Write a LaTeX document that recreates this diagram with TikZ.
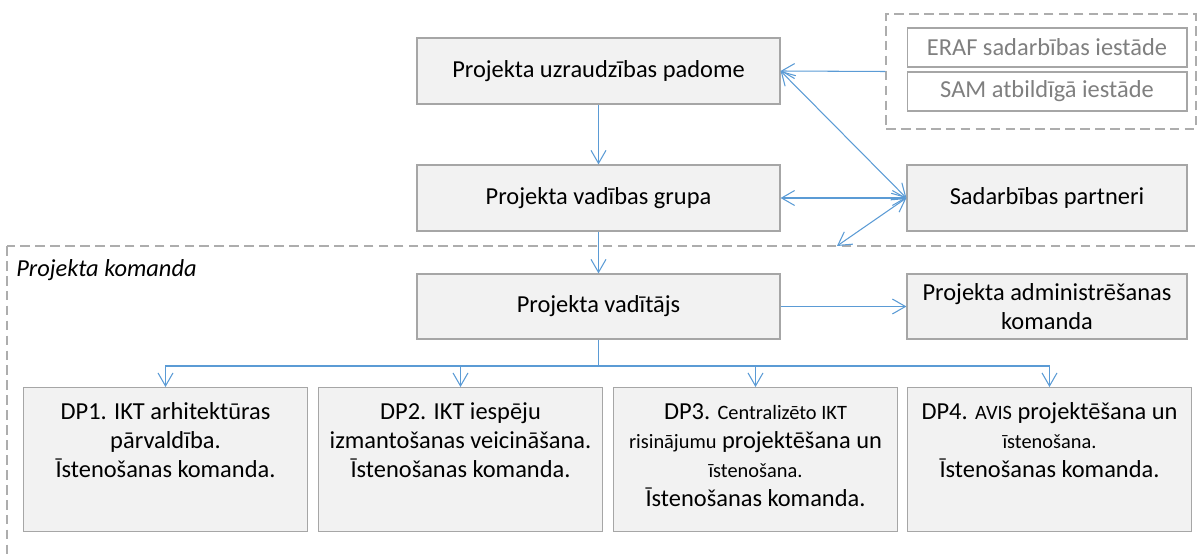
\documentclass[tikz,border=0pt]{standalone}
\usepackage{fontspec}
\setmainfont{Carlito}
\usetikzlibrary{arrows.meta}

\definecolor{linkblue}{HTML}{5B9BD5}
\definecolor{boxgray}{HTML}{A6A6A6}
\definecolor{boxfill}{HTML}{F2F2F2}
\definecolor{groupgray}{HTML}{ADADAD}
\definecolor{textgray}{HTML}{7F7F7F}

\newcommand{\dpsmall}[1]{{\fontsize{11.6}{16.5}\selectfont #1}}
\newcommand{\dptext}[1]{\parbox[t][68.7pt][t]{5.55cm}{\centering\strut #1}}

\begin{document}
\begin{tikzpicture}[x=0.02cm, y=-0.02cm,
    >={Straight Barb[length=2.6mm, width=3mm]},
    mainfont/.style={font=\fontsize{13.9}{16.5}\selectfont},
    block/.style={rectangle, draw=boxgray, line width=0.7pt, fill=boxfill, inner sep=2pt, align=center, mainfont},
    wideblock/.style={block, minimum width=7.26cm, minimum height=1.32cm},
    sideblock/.style={block, minimum width=5.6cm, minimum height=1.32cm},
    authblock/.style={rectangle, draw=boxgray, line width=0.6pt, fill=white, text=textgray, minimum width=5.6cm, minimum height=0.78cm, mainfont},
    dpblock/.style={block, anchor=north, minimum width=5.62cm, minimum height=2.88cm, inner ysep=6.65pt},
    groupline/.style={draw=groupgray, line width=0.7pt, dash pattern=on 5.5pt off 3pt},
    link/.style={draw=linkblue, line width=0.6pt},
]
    \useasboundingbox (0,0) rectangle (1198,554);
    \clip (0,0) rectangle (1198,554);

    % Upper level
    \node[wideblock] (padome) at (598.5,71) {Projekta uzraudzības padome};
    \node[wideblock] (grupa) at (598.5,198) {Projekta vadības grupa};
    \node[sideblock] (partneri) at (1047,198) {Sadarbības partneri};

    % Authorities group
    \node[groupline, rectangle, minimum width=6.2cm, minimum height=2.3cm] (iestades) at (1041,71.5) {};
    \node[authblock] (eraf) at (1047,47.5) {ERAF sadarbības iestāde};
    \node[authblock] (sam) at (1047,91.5) {SAM atbildīgā iestāde};

    % Project team frame
    \draw[groupline] (7,246) rectangle (1240,600);
    \node[mainfont, anchor=west, inner sep=0pt] (komandalabel) at (16,270) {\itshape Projekta komanda};
    \coordinate (komandaedge) at (837,246);

    \node[wideblock, minimum height=1.3cm] (vaditajs) at (598.5,306.5) {Projekta vadītājs};
    \node[sideblock, minimum height=1.3cm] (admin) at (1047,306.5) {Projekta administrēšanas\\komanda};

    % Work packages
    \node[dpblock] (dp1) at (165.5,387) {\dptext{DP1. IKT arhitektūras\\pārvaldība.\\Īstenošanas komanda.}};
    \node[dpblock] (dp2) at (460.5,387) {\dptext{DP2. IKT iespēju\\izmantošanas veicināšana.\\Īstenošanas komanda.}};
    \node[dpblock] (dp3) at (755.5,387) {\dptext{DP3. \dpsmall{Centralizēto IKT}\\\dpsmall{risinājumu} projektēšana un\\\dpsmall{īstenošana.}\\Īstenošanas komanda.}};
    \node[dpblock] (dp4) at (1049.5,387) {\dptext{DP4. \dpsmall{AVIS} projektēšana un\\\dpsmall{īstenošana.}\\Īstenošanas komanda.}};

    % Connectors
    \draw[link, ->] (padome) -- (grupa);
    \draw[link, ->] (grupa) -- (vaditajs);
    \draw[link, ->] (iestades.west) -- (padome.east);
    \draw[link, <->] (padome.east) -- (partneri.west);
    \draw[link, <->] (grupa.east) -- (partneri.west);
    \draw[link, <->] (partneri.west) -- (komandaedge);
    \draw[link, ->] (vaditajs) -- (admin);
    \coordinate (bus) at (598.5,366);
    \draw[link] (vaditajs.south) -- (bus);
    \foreach \i in {1,...,4}
        \draw[link, ->] (bus) -| (dp\i.north);
\end{tikzpicture}
\end{document}
